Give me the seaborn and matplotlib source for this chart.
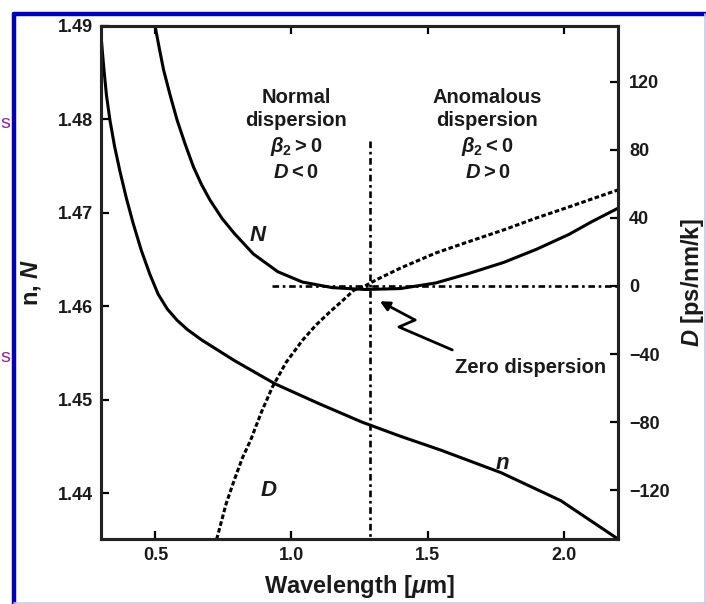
import matplotlib
matplotlib.use("Agg")
import matplotlib.pyplot as plt
from matplotlib.lines import Line2D
import seaborn as sns
import pandas as pd

# ---- data ----
wl_N = [0.50, 0.515, 0.53, 0.555, 0.58, 0.61, 0.64, 0.67, 0.70, 0.745, 0.79, 0.86, 0.95, 1.04, 1.15, 1.27,
        1.40, 1.53, 1.65, 1.78, 1.90, 2.02, 2.10, 2.20]
N_vals = [1.4898, 1.4875, 1.4853, 1.4825, 1.4799, 1.4773, 1.4749, 1.4730, 1.4714, 1.4694, 1.4678, 1.4656, 1.4637,
          1.4626, 1.4620, 1.4618, 1.4619, 1.4625, 1.4635, 1.4647, 1.4661, 1.4677, 1.4690, 1.4705]

wl_n = [0.30, 0.31, 0.32, 0.333, 0.35, 0.37, 0.393, 0.418, 0.448, 0.48, 0.51, 0.544, 0.58, 0.618, 0.67, 0.73,
        0.79, 0.85, 0.94, 1.10, 1.26, 1.40, 1.55, 1.77, 1.99, 2.20]
n_vals = [1.4890, 1.4856, 1.4826, 1.4799, 1.4771, 1.4744, 1.4716, 1.4689, 1.4660, 1.4634, 1.4613, 1.4597, 1.4585,
          1.4575, 1.4564, 1.4553, 1.4542, 1.4532, 1.4517, 1.4496, 1.4476, 1.4461, 1.4446, 1.4422, 1.4392, 1.4351]

wl_D = [0.725, 0.76, 0.79, 0.82, 0.85, 0.89, 0.93, 0.98, 1.04, 1.09, 1.14, 1.19, 1.23, 1.27, 1.31, 1.40, 1.53,
        1.65, 1.78, 1.90, 2.02, 2.20]
D_vals = [-149, -128, -114, -101, -90.6, -74, -59.4, -45, -32, -23, -15.4, -8.3, -2.4, 0.0, 3.5, 10.5, 19.4,
          26.0, 33.0, 40.0, 46.5, 56.5]

zero_wl = 1.29
x_ticks = [0.5, 1.0, 1.5, 2.0]
x_ticklabels = ["0.5", "1.0", "1.5", "2.0"]
n_ticks = [1.44, 1.45, 1.46, 1.47, 1.48, 1.49]
n_ticklabels = ["1.44", "1.45", "1.46", "1.47", "1.48", "1.49"]
D_ticks = [-120, -80, -40, 0, 40, 80, 120]

sns.set_style("ticks")
plt.rcParams['font.family'] = ['Liberation Sans', 'DejaVu Sans']
plt.rcParams['font.weight'] = 'bold'
plt.rcParams['axes.labelweight'] = 'bold'
plt.rcParams['mathtext.fontset'] = 'custom'
plt.rcParams['mathtext.it'] = 'Liberation Sans:italic:bold'
plt.rcParams['mathtext.rm'] = 'Liberation Sans:bold'
for k in ['text.color', 'axes.labelcolor', 'xtick.color', 'ytick.color', 'axes.edgecolor']:
    plt.rcParams[k] = 'black'

TXT = "#1a1a1a"

fig = plt.figure(figsize=(7.06, 6.04), dpi=100)
ax = fig.add_axes([101/706, 1-539/604, (618-101)/706, (539-26)/604])
ax2 = ax.twinx()

dfN = pd.DataFrame({"wl": wl_N, "v": N_vals})
dfn = pd.DataFrame({"wl": wl_n, "v": n_vals})
dfD = pd.DataFrame({"wl": wl_D, "v": D_vals})

sns.lineplot(data=dfN, x="wl", y="v", ax=ax, color="black", lw=2.2, sort=False)
sns.lineplot(data=dfn, x="wl", y="v", ax=ax, color="black", lw=2.2, sort=False)
sns.lineplot(data=dfD, x="wl", y="v", ax=ax2, color="black", lw=2.2, sort=False,
             linestyle=(0, (1.5, 0.8)))

# zero-dispersion reference lines
dashdot = (0, (2.5, 1.4, 1.0, 1.4))
ax2.plot([0.93, 2.2], [0, 0], color="black", lw=1.9, linestyle=dashdot)
ax2.plot([zero_wl, zero_wl], [85, -149], color="black", lw=1.9, linestyle=dashdot)

ax.set_xlim(0.3, 2.2)
ax.set_ylim(1.4351, 1.49)
ax2.set_ylim(-148.8, 152.9)

ax.set_xticks(x_ticks)
ax.set_xticklabels(x_ticklabels)
ax.set_yticks(n_ticks)
ax.set_yticklabels(n_ticklabels)
ax2.set_yticks(D_ticks)

for a in (ax, ax2):
    for s in a.spines.values():
        s.set_linewidth(2.2)
        s.set_color("#222222")
        s.set_visible(True)

ax.tick_params(axis="both", direction="in", length=6, width=1.6, labelsize=13,
               top=True, right=False, pad=6, labelcolor=TXT)
ax.tick_params(axis="x", pad=6)
ax2.tick_params(axis="y", direction="in", length=6, width=1.6, labelsize=13, pad=8, labelcolor=TXT)

ax.set_xlabel("Wavelength [$\\mu$m]", fontsize=17, color=TXT)
ax.xaxis.set_label_coords(0.5, -0.066)
ax.set_ylabel("n, $N$", fontsize=17, color=TXT)
ax.yaxis.set_label_coords(-0.112, 0.5)
ax2.set_ylabel("$D$ [ps/nm/k]", fontsize=17, color=TXT)
ax2.yaxis.set_label_coords(1.118, 0.5)

# annotations
txt_kw = dict(ha="center", va="top", fontsize=14.5, linespacing=1.3, color=TXT)
ax.text(1.017, 1.4834, "Normal\ndispersion\n$\\beta_2 > 0$\n$D < 0$", **txt_kw)
ax.text(1.72, 1.4834, "Anomalous\ndispersion\n$\\beta_2 < 0$\n$D > 0$", **txt_kw)
ax.text(0.877, 1.4676, "$N$", fontsize=16, ha="center", va="center", color=TXT)
ax.text(1.776, 1.4432, "$n$", fontsize=16, ha="center", va="center", color=TXT)
ax.text(0.918, 1.4403, "$D$", fontsize=16, ha="center", va="center", color=TXT)
ax2.text(1.88, -48, "Zero dispersion", fontsize=14.5, ha="center", va="center", color=TXT)
# lightning-style arrow
ax2.plot([1.591, 1.395, 1.454], [-37.6, -24.1, -20.0], color="black", lw=2.0)
ax2.annotate("", xy=(1.325, -9), xytext=(1.454, -20.0),
             arrowprops=dict(arrowstyle="-|>", color="black", lw=2.0, mutation_scale=14,
                             shrinkA=0, shrinkB=0))

# page border remnants
fig.add_artist(Line2D([14/706, 14/706], [0, 1-14/604], transform=fig.transFigure, color="#0000b4", lw=3.2))
fig.add_artist(Line2D([14/706, 1], [1-14/604, 1-14/604], transform=fig.transFigure, color="#0000b4", lw=3.2))
fig.add_artist(Line2D([705/706, 705/706], [0, 1-14/604], transform=fig.transFigure, color="#c8c8ee", lw=1.2))
fig.add_artist(Line2D([14/706, 1], [1.5/604, 1.5/604], transform=fig.transFigure, color="#c8c8ee", lw=1.2))
fig.text(0.5/706, 1-123/604, "s", color="#8e1f8e", fontsize=14, ha="left", va="center", fontweight="normal")
fig.text(0.5/706, 1-358/604, "s", color="#8e1f8e", fontsize=14, ha="left", va="center", fontweight="normal")

fig.savefig("out.png", dpi=100)
